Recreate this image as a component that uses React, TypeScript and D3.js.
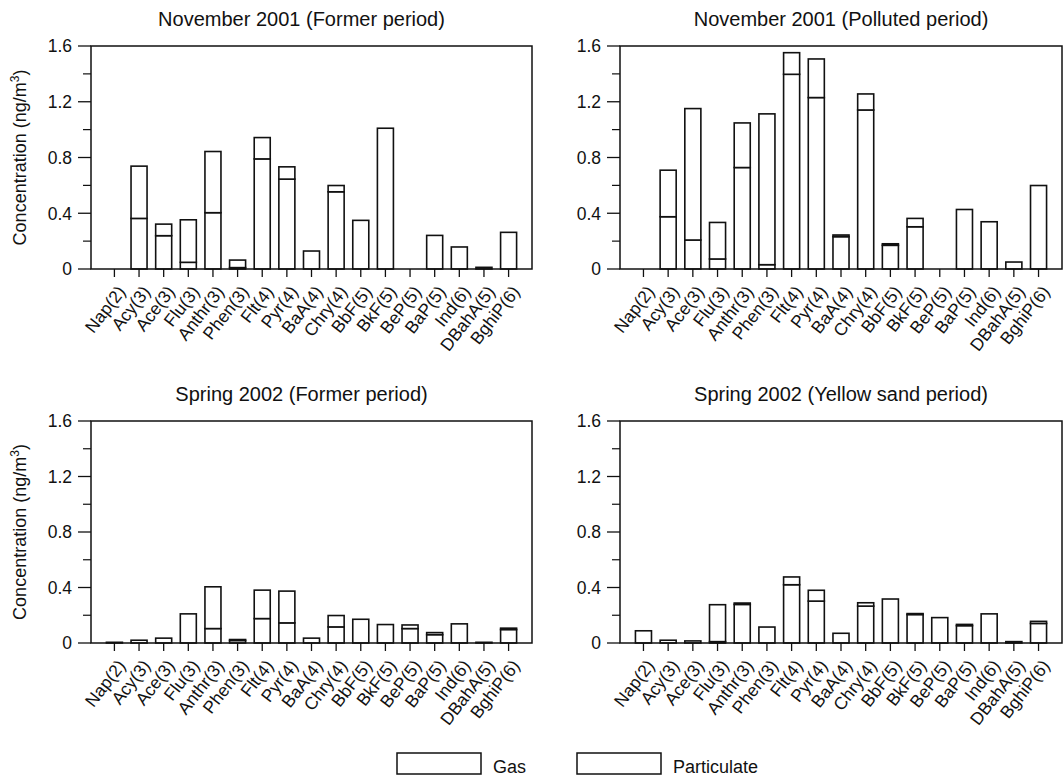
import React from "react";
import * as d3 from "d3";

const categories = ["Nap(2)", "Acy(3)", "Ace(3)", "Flu(3)", "Anthr(3)", "Phen(3)", "Flt(4)", "Pyr(4)", "BaA(4)", "Chry(4)", "BbF(5)", "BkF(5)", "BeP(5)", "BaP(5)", "Ind(6)", "DBahA(5)", "BghiP(6)"];

const nov2001FormerParticulate = [0, 0.363, 0.239, 0.048, 0.404, 0.010, 0.790, 0.645, 0.129, 0.554, 0.349, 1.010, 0, 0.241, 0.158, 0.012, 0.263];
const nov2001FormerGas = [0, 0.375, 0.083, 0.305, 0.439, 0.054, 0.153, 0.088, 0, 0.045, 0, 0, 0, 0, 0, 0, 0];

const nov2001PollutedParticulate = [0, 0.375, 0.208, 0.072, 0.728, 0.031, 1.397, 1.230, 0.232, 1.141, 0.170, 0.303, 0, 0.427, 0.339, 0.050, 0.599];
const nov2001PollutedGas = [0, 0.334, 0.943, 0.262, 0.320, 1.082, 0.155, 0.277, 0.012, 0.115, 0.011, 0.060, 0, 0, 0, 0, 0];

const spring2002FormerParticulate = [0.005, 0.02, 0.035, 0.21, 0.104, 0.018, 0.176, 0.145, 0.035, 0.116, 0.171, 0.133, 0.104, 0.06, 0.138, 0.005, 0.097];
const spring2002FormerGas = [0, 0, 0, 0, 0.301, 0.007, 0.205, 0.229, 0, 0.082, 0, 0, 0.026, 0.015, 0, 0, 0.01];

const spring2002SandParticulate = [0.088, 0.02, 0.015, 0.01, 0.278, 0.115, 0.420, 0.302, 0.07, 0.266, 0.317, 0.205, 0.183, 0.125, 0.210, 0.01, 0.141];
const spring2002SandGas = [0, 0, 0, 0.266, 0.010, 0, 0.056, 0.078, 0, 0.024, 0, 0.007, 0, 0.009, 0, 0, 0.015];

const panelTitles = ["November 2001 (Former period)", "November 2001 (Polluted period)", "Spring 2002 (Former period)", "Spring 2002 (Yellow sand period)"];
const majorTicks = [0, 0.4, 0.8, 1.2, 1.6];
const minorTicks = [0.2, 0.6, 1.0, 1.4];
const legendLabels = ["Gas", "Particulate"];
const yLabel = "Concentration (ng/m";

const FONT = "'Liberation Sans', Arial, Helvetica, sans-serif";

const panels = [
  { title: panelTitles[0], part: nov2001FormerParticulate, gas: nov2001FormerGas, x0: 91, y0: 46, w: 441, h: 223, showY: true, tdx: -10 },
  { title: panelTitles[1], part: nov2001PollutedParticulate, gas: nov2001PollutedGas, x0: 620, y0: 46, w: 442, h: 223, showY: false, tdx: 0 },
  { title: panelTitles[2], part: spring2002FormerParticulate, gas: spring2002FormerGas, x0: 91, y0: 421, w: 441, h: 222, showY: true, tdx: -10 },
  { title: panelTitles[3], part: spring2002SandParticulate, gas: spring2002SandGas, x0: 620, y0: 421, w: 442, h: 222, showY: false, tdx: 0 },
];

function Panel({ p }: { p: any }) {
  const x = d3.scalePoint<string>().domain(categories).range([0, p.w]).padding(0.95);
  const y = d3.scaleLinear().domain([0, 1.6]).range([p.h, 0]);
  const bw = x.step() * 0.65;
  const stroke = "#111";
  return (
    <g transform={`translate(${p.x0},${p.y0})`}>
      <text x={p.w / 2 + p.tdx} y={-20} textAnchor="middle" fontSize={20} fontFamily={FONT} fill="#111">{p.title}</text>
      {categories.map((c, i) => {
        const cx = x(c) as number;
        const pv = p.part[i];
        const gv = p.gas[i];
        const segs: any[] = [];
        if (pv > 0) segs.push([0, pv]);
        if (gv > 0) segs.push([pv, pv + gv]);
        return (
          <g key={c}>
            {segs.map((s, k) => (
              <rect key={k} x={cx - bw / 2} y={y(s[1])} width={bw} height={Math.max(0.01, y(s[0]) - y(s[1]))}
                fill="#fff" stroke={stroke} strokeWidth={1.6} />
            ))}
          </g>
        );
      })}
      <rect x={0} y={0} width={p.w} height={p.h} fill="none" stroke={stroke} strokeWidth={1.5} />
      {majorTicks.map((t) => (
        <g key={"M" + t}>
          <line x1={-13} x2={0} y1={y(t)} y2={y(t)} stroke={stroke} strokeWidth={1.3} />
          <text x={-19} y={y(t)} dy="0.36em" textAnchor="end" fontSize={17.5} fontFamily={FONT} fill="#111">{t === 0 ? "0" : t.toFixed(1)}</text>
        </g>
      ))}
      {minorTicks.map((t) => (
        <line key={"m" + t} x1={-8} x2={0} y1={y(t)} y2={y(t)} stroke={stroke} strokeWidth={1.2} />
      ))}
      {categories.map((c) => {
        const cx = x(c) as number;
        return (
          <g key={"x" + c}>
            <line x1={cx} x2={cx} y1={p.h} y2={p.h + 8} stroke={stroke} strokeWidth={1.3} />
            <text transform={`translate(${cx + 12},${p.h + 23}) rotate(-52)`} textAnchor="end" fontSize={17.5} fontFamily={FONT} fill="#111">{c}</text>
          </g>
        );
      })}
      {p.showY && (
        <text transform={`translate(-65,${p.h / 2}) rotate(-90)`} textAnchor="middle" fontSize={18} fontFamily={FONT} fill="#111">
          {yLabel}
          <tspan dy="-7" fontSize={12}>3</tspan>
          <tspan dy="7">)</tspan>
        </text>
      )}
    </g>
  );
}

export default function App() {
  const legendX = [397, 577];
  return (
    <svg width={1064} height={780} style={{ position: "absolute", left: 0, top: 0, background: "#fff" }}>
      <rect x={0} y={0} width={1064} height={780} fill="#fff" />
      {panels.map((p, i) => <Panel key={i} p={p} />)}
      {legendLabels.map((l, i) => (
        <g key={l}>
          <rect x={legendX[i]} y={753} width={84} height={21} fill="#fff" stroke="#111" strokeWidth={1.5} />
          <text x={legendX[i] + 96} y={773} fontSize={18} fontFamily={FONT} fill="#111">{l}</text>
        </g>
      ))}
    </svg>
  );
}
